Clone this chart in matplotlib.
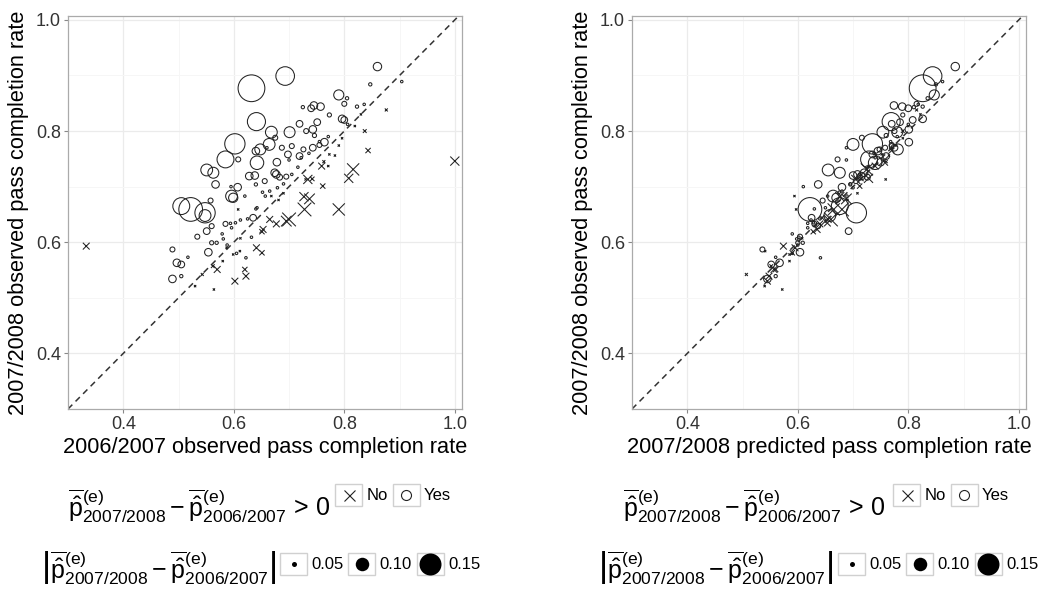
import numpy as np
import matplotlib
matplotlib.use("Agg")
import matplotlib.pyplot as plt
from matplotlib.lines import Line2D
from matplotlib.patches import Rectangle
from matplotlib.legend_handler import HandlerBase

plt.rcParams["font.family"] = ["Liberation Sans", "DejaVu Sans"]
plt.rcParams["mathtext.fontset"] = "custom"
plt.rcParams["mathtext.rm"] = "Liberation Sans"
plt.rcParams["mathtext.it"] = "Liberation Sans:italic"
plt.rcParams["mathtext.bf"] = "Liberation Sans:bold"

# observed 2006/2007, observed 2007/2008, predicted 2007/2008,
# improved (p-hat difference > 0) and |p-hat difference|
obs_0607 = [
    0.860, 0.847, 0.904, 0.632, 0.693, 0.790, 0.805, 0.800, 0.823, 0.745,
    0.757, 0.740, 0.725, 0.773, 0.796, 0.800, 0.641, 0.668, 0.701, 0.719,
    0.751, 0.743, 0.731, 0.746, 0.675, 0.602, 0.664, 0.648, 0.640, 0.585,
    0.608, 0.642, 0.678, 0.687, 0.705, 0.698, 0.719, 0.726, 0.743, 0.764,
    0.755, 0.551, 0.563, 0.567, 0.628, 0.638, 0.674, 0.677, 0.683, 0.695,
    0.656, 0.640, 0.607, 0.596, 0.599, 0.620, 0.657, 0.665, 0.679, 0.558,
    0.522, 0.505, 0.548, 0.548, 0.560, 0.551, 0.534, 0.585, 0.594, 0.603,
    0.612, 0.635, 0.632, 0.560, 0.569, 0.554, 0.489, 0.517, 0.497, 0.505,
    0.489, 0.505, 0.622, 0.605,
    0.333, 1.000, 0.876, 0.837, 0.843, 0.819, 0.816, 0.808, 0.790, 0.761,
    0.759, 0.734, 0.737, 0.727, 0.728, 0.700, 0.695, 0.677, 0.665, 0.653,
    0.651, 0.641, 0.651, 0.620, 0.622, 0.602, 0.608, 0.570, 0.562, 0.543,
    0.790, 0.796, 0.783, 0.773, 0.771, 0.690, 0.681, 0.668, 0.599, 0.611,
    0.587, 0.742, 0.763,
    0.564, 0.530, 0.580, 0.579, 0.581, 0.588, 0.625, 0.642, 0.652, 0.690,
    0.705, 0.716, 0.722, 0.736, 0.755, 0.771, 0.806, 0.830, 0.836, 0.612,
    0.596, 0.700, 0.730, 0.640, 0.595, 0.660,
]
obs_0708 = [
    0.916, 0.884, 0.889, 0.877, 0.899, 0.865, 0.859, 0.849, 0.844, 0.846,
    0.844, 0.841, 0.843, 0.829, 0.822, 0.820, 0.817, 0.798, 0.798, 0.813,
    0.816, 0.803, 0.800, 0.792, 0.788, 0.777, 0.776, 0.767, 0.764, 0.749,
    0.749, 0.743, 0.744, 0.770, 0.773, 0.758, 0.755, 0.767, 0.770, 0.780,
    0.775, 0.730, 0.725, 0.704, 0.719, 0.720, 0.725, 0.722, 0.717, 0.718,
    0.710, 0.704, 0.699, 0.683, 0.680, 0.683, 0.683, 0.692, 0.698, 0.675,
    0.659, 0.665, 0.653, 0.648, 0.629, 0.620, 0.610, 0.633, 0.634, 0.635,
    0.640, 0.644, 0.609, 0.599, 0.599, 0.582, 0.587, 0.573, 0.563, 0.560,
    0.534, 0.539, 0.572, 0.580,
    0.593, 0.746, 0.838, 0.800, 0.765, 0.809, 0.731, 0.715, 0.659, 0.701,
    0.737, 0.713, 0.678, 0.682, 0.659, 0.641, 0.638, 0.633, 0.641, 0.623,
    0.619, 0.590, 0.581, 0.551, 0.539, 0.530, 0.659, 0.551, 0.557, 0.542,
    0.774, 0.787, 0.756, 0.758, 0.737, 0.688, 0.676, 0.683, 0.578, 0.584,
    0.590, 0.714, 0.745,
    0.515, 0.521, 0.566, 0.615, 0.606, 0.595, 0.642, 0.662, 0.690, 0.705,
    0.722, 0.735, 0.752, 0.760, 0.781, 0.790, 0.812, 0.830, 0.848, 0.607,
    0.626, 0.748, 0.713, 0.660, 0.700, 0.770,
]
pred_0708 = [
    0.885, 0.850, 0.862, 0.826, 0.844, 0.847, 0.835, 0.815, 0.826, 0.774,
    0.789, 0.800, 0.810, 0.790, 0.826, 0.808, 0.769, 0.754, 0.780, 0.770,
    0.785, 0.801, 0.775, 0.760, 0.716, 0.735, 0.700, 0.781, 0.745, 0.729,
    0.672, 0.740, 0.750, 0.758, 0.770, 0.735, 0.760, 0.748, 0.775, 0.801,
    0.770, 0.655, 0.676, 0.637, 0.715, 0.700, 0.720, 0.708, 0.726, 0.712,
    0.705, 0.695, 0.680, 0.664, 0.670, 0.654, 0.689, 0.680, 0.700, 0.645,
    0.622, 0.676, 0.706, 0.658, 0.637, 0.692, 0.604, 0.630, 0.618, 0.628,
    0.624, 0.625, 0.602, 0.600, 0.609, 0.604, 0.536, 0.560, 0.567, 0.552,
    0.545, 0.560, 0.641, 0.590,
    0.574, 0.755, 0.815, 0.790, 0.770, 0.800, 0.725, 0.728, 0.665, 0.712,
    0.740, 0.705, 0.688, 0.676, 0.680, 0.660, 0.650, 0.640, 0.655, 0.635,
    0.628, 0.595, 0.590, 0.560, 0.548, 0.545, 0.597, 0.557, 0.552, 0.507,
    0.778, 0.790, 0.765, 0.752, 0.728, 0.708, 0.690, 0.594, 0.585, 0.541,
    0.595, 0.715, 0.760,
    0.572, 0.540, 0.585, 0.590, 0.598, 0.600, 0.640, 0.650, 0.675, 0.695,
    0.712, 0.725, 0.740, 0.738, 0.768, 0.780, 0.800, 0.822, 0.818, 0.608,
    0.618, 0.688, 0.759, 0.630, 0.610, 0.688,
]
improved = [1] * 84 + [0] * 43 + [
    0, 0, 0, 1, 1, 1, 1, 1, 1, 1, 1, 1, 1, 1, 1, 1, 1, 0, 1, 0,
    1, 1, 0, 1, 1, 1,
]
abs_diff = [
    0.070, 0.040, 0.030, 0.178, 0.130, 0.080, 0.040, 0.050, 0.040, 0.065,
    0.065, 0.060, 0.040, 0.045, 0.065, 0.060, 0.127, 0.090, 0.085, 0.060,
    0.060, 0.065, 0.050, 0.045, 0.050, 0.140, 0.090, 0.085, 0.065, 0.120,
    0.050, 0.100, 0.065, 0.050, 0.050, 0.060, 0.060, 0.050, 0.060, 0.065,
    0.050, 0.090, 0.085, 0.065, 0.065, 0.065, 0.065, 0.065, 0.055, 0.050,
    0.050, 0.040, 0.065, 0.090, 0.075, 0.035, 0.035, 0.035, 0.035, 0.050,
    0.160, 0.120, 0.140, 0.090, 0.050, 0.060, 0.050, 0.050, 0.030, 0.030,
    0.035, 0.060, 0.035, 0.045, 0.040, 0.065, 0.050, 0.035, 0.065, 0.060,
    0.065, 0.040, 0.035, 0.030,
    0.065, 0.080, 0.040, 0.045, 0.055, 0.035, 0.100, 0.080, 0.100, 0.055,
    0.065, 0.080, 0.090, 0.080, 0.110, 0.110, 0.090, 0.065, 0.065, 0.065,
    0.055, 0.065, 0.055, 0.055, 0.065, 0.065, 0.035, 0.065, 0.045, 0.040,
    0.035, 0.035, 0.035, 0.030, 0.035, 0.035, 0.035, 0.035, 0.035, 0.035,
    0.035, 0.050, 0.040,
    0.020, 0.020, 0.020, 0.020, 0.020, 0.020, 0.020, 0.020, 0.020, 0.020,
    0.020, 0.020, 0.020, 0.020, 0.020, 0.020, 0.020, 0.020, 0.020, 0.020,
    0.020, 0.020, 0.020, 0.020, 0.020, 0.020,
]
size_breaks = [0.05, 0.10, 0.15]
shape_labels = ["No", "Yes"]

obs_0607 = np.array(obs_0607)
obs_0708 = np.array(obs_0708)
pred_0708 = np.array(pred_0708)
improved = np.array(improved, dtype=bool)
abs_diff = np.array(abs_diff)

DPI = 100
INK = "#222222"


def diam_pt(v):
    # marker diameter in points for a given |difference|
    px = np.maximum(2.5, 170 * np.asarray(v) - 3.5)
    return px * 72 / DPI


fig = plt.figure(figsize=(10.58, 6.01), dpi=DPI)
W, H = 1058, 601


def panel(x0):
    return fig.add_axes([x0 / W, 1 - 409 / H, 394 / W, 393 / H])


def style(ax, xlab):
    ax.set_xlim(0.30, 1.013)
    ax.set_ylim(0.302, 1.007)
    ax.set_xticks([0.4, 0.6, 0.8, 1.0])
    ax.set_yticks([0.4, 0.6, 0.8, 1.0])
    ax.set_xticks([0.3, 0.5, 0.7, 0.9], minor=True)
    ax.set_yticks([0.3, 0.5, 0.7, 0.9], minor=True)
    ax.grid(which="major", color="#ebebeb", lw=0.9)
    ax.grid(which="minor", color="#f6f6f6", lw=0.7)
    ax.set_axisbelow(True)
    ax.tick_params(which="major", labelsize=13, length=3, color="#888888",
                   labelcolor="#333333", pad=2)
    ax.tick_params(which="minor", length=0)
    for s in ax.spines.values():
        s.set_color("#aaaaaa")
        s.set_linewidth(0.9)
    ax.axline((0.5, 0.5), slope=1, color="#333333", lw=1.1, ls=(0, (4, 3)),
              zorder=1)
    ax.set_xlabel(xlab, fontsize=15.7)
    ax.set_ylabel("2007/2008 observed pass completion rate", fontsize=15.7)
    ax.xaxis.set_label_coords(0.5, -0.07)
    ax.yaxis.set_label_coords(-0.1, 0.5)


def draw(ax, xs):
    ms = diam_pt(abs_diff)
    yes = improved
    ax.scatter(xs[yes], obs_0708[yes], s=ms[yes] ** 2, marker="o",
               facecolors="none", edgecolors=INK, linewidths=0.75, zorder=3)
    ax.scatter(xs[~yes], obs_0708[~yes], s=(ms[~yes] * 0.9) ** 2, marker="x",
               color=INK, linewidths=0.75, zorder=3)


ax1 = panel(68)
draw(ax1, obs_0607)
style(ax1, "2006/2007 observed pass completion rate")

ax2 = panel(632)
draw(ax2, pred_0708)
style(ax2, "2007/2008 predicted pass completion rate")


class BoxKey(HandlerBase):
    def create_artists(self, legend, orig, xd, yd, w, h, fontsize, trans):
        rect = Rectangle((-xd, -yd), w, h, facecolor="white",
                         edgecolor="#d0d0d0", lw=1.0, transform=trans)
        mk = Line2D([w / 2 - xd], [h / 2 - yd], marker=orig.get_marker(),
                    markersize=orig.get_markersize(),
                    markerfacecolor=orig.get_markerfacecolor(),
                    markeredgecolor=orig.get_markeredgecolor(),
                    markeredgewidth=orig.get_markeredgewidth(),
                    linestyle="none", transform=trans)
        return [rect, mk]


pbar = r"\overline{\hat{\mathrm{p}}}^{(\mathrm{e})}"
title1 = r"$" + pbar + r"_{2007/2008}-" + pbar + r"_{2006/2007}\,>\,0$"
title2 = (r"$\left|" + pbar + r"_{2007/2008}-" + pbar
          + r"_{2006/2007}\right|$")

shape_handles = [
    Line2D([], [], marker="x", markersize=11 * 0.72, color=INK,
           markeredgewidth=0.8, linestyle="none"),
    Line2D([], [], marker="o", markersize=10 * 0.72, markerfacecolor="none",
           markeredgecolor=INK, markeredgewidth=0.8, linestyle="none"),
]
size_handles = [
    Line2D([], [], marker="o", markersize=diam_pt(v), color="black",
           markeredgewidth=0, linestyle="none")
    for v in size_breaks
]

for tx1, tx2, k1, k2 in [(331, 276, 335, 280), (886, 833, 893, 838)]:
    fig.text(tx1 / W, 1 - 506 / H, title1, fontsize=18, ha="right",
             va="center")
    fig.text(tx2 / W, 1 - 568 / H, title2, fontsize=18, ha="right",
             va="center")
    for handles, labels, kx, ky in [
        (shape_handles, shape_labels, k1, 495),
        (size_handles, ["%.2f" % v for v in size_breaks], k2, 564),
    ]:
        fig.legend(handles, labels, loc="center left",
                   bbox_to_anchor=(kx / W, 1 - ky / H), ncol=len(handles),
                   frameon=False, fontsize=12, borderpad=0, borderaxespad=0,
                   handlelength=1.62, handleheight=1.62, handletextpad=0.25,
                   columnspacing=0.3,
                   handler_map={Line2D: BoxKey()})

fig.savefig("out.png", dpi=DPI)
